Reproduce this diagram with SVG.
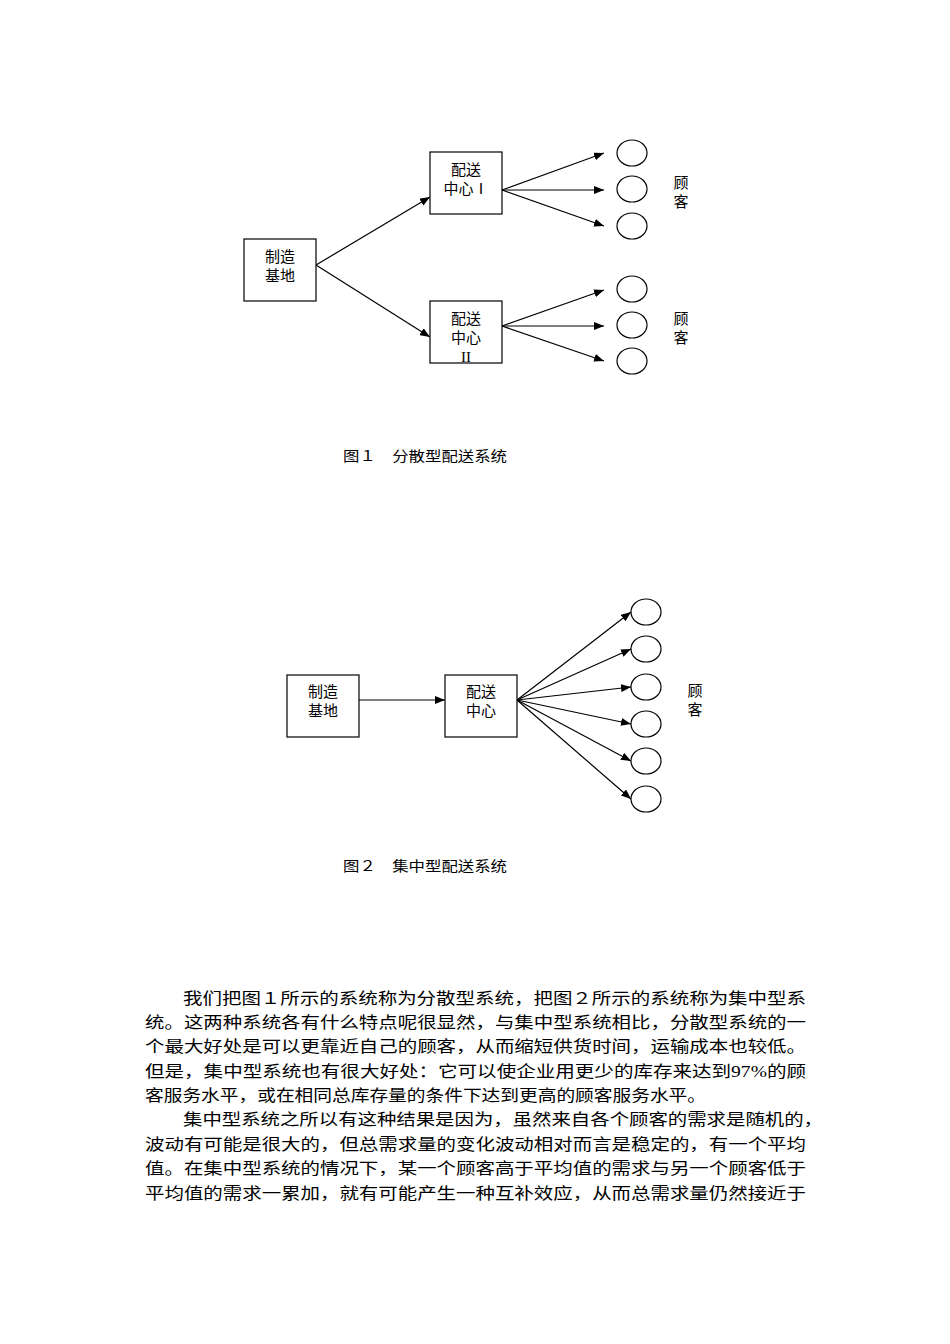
<svg xmlns="http://www.w3.org/2000/svg" width="950" height="1344" viewBox="0 0 950 1344">
<style>
text{font-family:"Liberation Serif","Noto Sans CJK SC",serif;fill:#000}
.n{font-size:15px;text-anchor:middle}
.p{font-size:16px}
.c{font-size:14px}
rect,ellipse{fill:#fff;stroke:#000;stroke-width:1.2}
line{stroke:#000;stroke-width:1.2;marker-end:url(#a)}
</style>
<defs><marker id="a" markerWidth="10" markerHeight="8" refX="10" refY="4" orient="auto" markerUnits="userSpaceOnUse"><path d="M0,0L10,4L0,8z" fill="#000"/></marker></defs>
<rect width="950" height="1344" style="fill:#fff;stroke:none"/>
<g id="connectors">
<line x1="316" y1="265" x2="430" y2="197"/>
<line x1="316" y1="265" x2="430" y2="337"/>
<line x1="502" y1="190" x2="604" y2="153"/>
<line x1="502" y1="190" x2="604" y2="190"/>
<line x1="502" y1="190" x2="604" y2="226"/>
<line x1="502" y1="326" x2="604" y2="290"/>
<line x1="502" y1="326" x2="604" y2="326"/>
<line x1="502" y1="326" x2="604" y2="361"/>
<line x1="359" y1="700" x2="445" y2="700"/>
<line x1="517" y1="700" x2="631" y2="612"/>
<line x1="517" y1="700" x2="631" y2="649"/>
<line x1="517" y1="700" x2="631" y2="687"/>
<line x1="517" y1="700" x2="631" y2="724"/>
<line x1="517" y1="700" x2="631" y2="761"/>
<line x1="517" y1="700" x2="631" y2="799"/>
</g>
<g id="base1"><rect x="244" y="239" width="72" height="62"/><text class="n" x="280" y="262">制造</text><text class="n" x="280" y="281">基地</text></g>
<g id="dc1"><rect x="430" y="152" width="72" height="62"/><text class="n" x="466" y="175">配送</text><text class="n" x="466" y="194">中心Ⅰ</text></g>
<g id="dc2"><rect x="430" y="301" width="72" height="62"/><text class="n" x="466" y="324">配送</text><text class="n" x="466" y="343">中心</text><text class="n" x="466" y="362">II</text></g>
<g id="cust1">
<ellipse cx="632" cy="153" rx="15" ry="13"/><ellipse cx="632" cy="189" rx="15" ry="13"/><ellipse cx="632" cy="226" rx="15" ry="13"/>
<ellipse cx="632" cy="289" rx="15" ry="13"/><ellipse cx="632" cy="325" rx="15" ry="13"/><ellipse cx="632" cy="361" rx="15" ry="13"/>
<text class="n" x="681" y="188">顾</text><text class="n" x="681" y="207">客</text>
<text class="n" x="681" y="324">顾</text><text class="n" x="681" y="343">客</text>
</g>
<text class="c" x="343" y="461" textLength="164" lengthAdjust="spacingAndGlyphs">图１　分散型配送系统</text>
<g id="base2"><rect x="287" y="675" width="72" height="62"/><text class="n" x="323" y="697">制造</text><text class="n" x="323" y="716">基地</text></g>
<g id="dc"><rect x="445" y="675" width="72" height="62"/><text class="n" x="481" y="697">配送</text><text class="n" x="481" y="716">中心</text></g>
<g id="cust2">
<ellipse cx="646" cy="612" rx="15" ry="13"/><ellipse cx="646" cy="649" rx="15" ry="13"/><ellipse cx="646" cy="687" rx="15" ry="13"/>
<ellipse cx="646" cy="724" rx="15" ry="13"/><ellipse cx="646" cy="761" rx="15" ry="13"/><ellipse cx="646" cy="799" rx="15" ry="13"/>
<text class="n" x="695" y="696">顾</text><text class="n" x="695" y="715">客</text>
</g>
<text class="c" x="343" y="871" textLength="164" lengthAdjust="spacingAndGlyphs">图２　集中型配送系统</text>
<g>
<text class="p" x="183" y="1004" textLength="623" lengthAdjust="spacingAndGlyphs">我们把图１所示的系统称为分散型系统，把图２所示的系统称为集中型系</text>
<text class="p" x="145" y="1028" textLength="661" lengthAdjust="spacingAndGlyphs">统。这两种系统各有什么特点呢很显然，与集中型系统相比，分散型系统的一</text>
<text class="p" x="145" y="1052" textLength="661" lengthAdjust="spacingAndGlyphs">个最大好处是可以更靠近自己的顾客，从而缩短供货时间，运输成本也较低。</text>
<text class="p" x="145" y="1077" textLength="661" lengthAdjust="spacingAndGlyphs">但是，集中型系统也有很大好处：它可以使企业用更少的库存来达到97%的顾</text>
<text class="p" x="145" y="1101" textLength="561" lengthAdjust="spacingAndGlyphs">客服务水平，或在相同总库存量的条件下达到更高的顾客服务水平。</text>
<text class="p" x="183" y="1125" textLength="640" lengthAdjust="spacingAndGlyphs">集中型系统之所以有这种结果是因为，虽然来自各个顾客的需求是随机的，</text>
<text class="p" x="145" y="1150" textLength="661" lengthAdjust="spacingAndGlyphs">波动有可能是很大的，但总需求量的变化波动相对而言是稳定的，有一个平均</text>
<text class="p" x="145" y="1174" textLength="661" lengthAdjust="spacingAndGlyphs">值。在集中型系统的情况下，某一个顾客高于平均值的需求与另一个顾客低于</text>
<text class="p" x="145" y="1199" textLength="661" lengthAdjust="spacingAndGlyphs">平均值的需求一累加，就有可能产生一种互补效应，从而总需求量仍然接近于</text>
</g>
</svg>
